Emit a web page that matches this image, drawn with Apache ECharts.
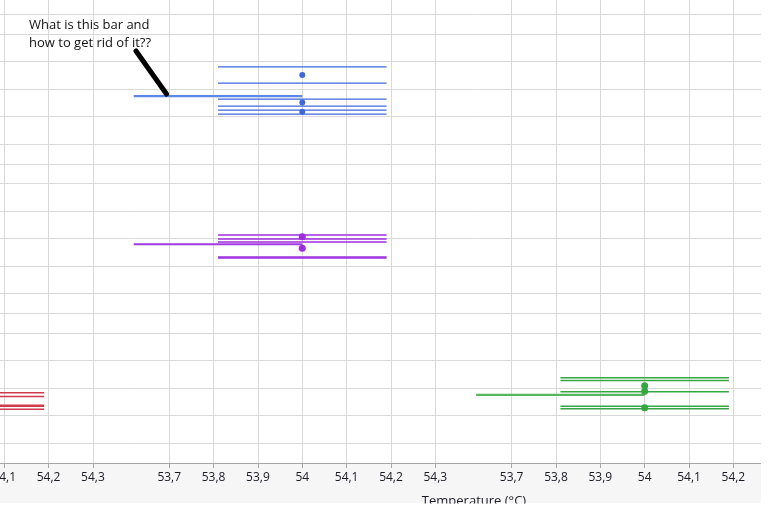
<!DOCTYPE html>
<html><head><meta charset="utf-8">
<script src="https://cdn.jsdelivr.net/npm/echarts@6/dist/echarts.min.js"></script>
<style>html,body{margin:0;padding:0;background:#fff}#c{width:774px;height:517px}</style>
</head><body><div id="c"></div>
<script>
// ---------- data ----------
const tickValues = [53.7, 53.8, 53.9, 54.0, 54.1, 54.2, 54.3];
const axisMin = 53.619, axisMax = 54.391;
const axisTitle = 'Temperature (°C)';
const noteText = 'What is this bar and\nhow to get rid of it??';

// blue group (middle column, top row)
const blueCapX = [53.81, 54.19];
const blueCapY = [1.20, 1.79, 2.37, 2.62, 2.77, 2.91];
const blueMeanX = [54.0, 54.0, 54.0];
const blueMeanY = [1.49, 2.49, 2.83];
const blueBarX = [53.62, 54.0];
const blueBarY = 2.26;

// purple group (middle column, middle row)
const purpleCapX = [53.81, 54.19];
const purpleCapY = [1.875, 2.02, 2.125, 2.67, 2.705];
const purpleMeanX = [54.0, 54.0];
const purpleMeanY = [1.94, 2.35];
const purpleBarX = [53.62, 54.0];
const purpleBarY = 2.21;

// green group (right column, bottom row)
const greenCapX = [53.81, 54.19];
const greenCapY = [1.63, 1.73, 2.14, 2.66, 2.755];
const greenMeanX = [54.0, 54.0, 54.0];
const greenMeanY = [1.92, 2.12, 2.72];
const greenBarX = [53.62, 54.0];
const greenBarY = 2.25;

// red group (left column, bottom row) - only the right ends are visible
const redCapX = [53.81, 54.19];
const redCapY = [2.175, 2.31, 2.63, 2.665, 2.77];

// ---------- layout ----------
const colLeft = [-209.1, 133.3, 475.7];
const colWidth = 342.4;
const rowTop = [14.5, 164.0, 313.5];
const rowHeight = 149.5;
const plotBottom = 463.0;

const gridColor = '#d9d9d9';
const axisColor = '#a6a6a6';

function fmt(v) {
  const r = Math.round(v * 10) / 10;
  if (Math.abs(v - r) > 1e-6) return '';
  return String(r).replace('.', ',');
}

const grids = [], xAxes = [], yAxes = [], series = [];
// frame grids (one per column) carrying the visible x axis
for (let c = 0; c < 3; c++) {
  grids.push({left: colLeft[c], top: 0, width: colWidth, height: plotBottom, containLabel: false, outerBoundsMode: 'none'});
  xAxes.push({
    gridIndex: c, type: 'value', min: axisMin, max: axisMax, splitNumber: 8,
    minInterval: 0.1, maxInterval: 0.1,
    axisLine: {show: true, lineStyle: {color: axisColor, width: 1}},
    axisTick: {show: true, length: 5, customValues: tickValues, lineStyle: {color: axisColor}},
    axisLabel: {show: true, customValues: tickValues, formatter: fmt, color: '#1a1a26',
      fontSize: 12, fontFamily: 'Open Sans', margin: 9, hideOverlap: false},
    splitLine: {show: true, lineStyle: {color: gridColor, width: 1}}
  });
  yAxes.push({gridIndex: c, type: 'value', min: 0, max: 1, show: false});
}
// row grids (3x3) carrying horizontal lines and data
function rowIndex(r, c) { return 3 + r * 3 + c; }
for (let r = 0; r < 3; r++) {
  for (let c = 0; c < 3; c++) {
    const gi = rowIndex(r, c);
    grids.push({left: colLeft[c], top: rowTop[r], width: colWidth, height: rowHeight, containLabel: false, outerBoundsMode: 'none'});
    xAxes.push({gridIndex: gi, type: 'value', min: axisMin, max: axisMax, show: false});
    yAxes.push({
      gridIndex: gi, type: 'value', inverse: true, min: -0.70, max: 4.72,
      splitNumber: 5, minInterval: 1, maxInterval: 1,
      axisLine: {show: false}, axisTick: {show: false}, axisLabel: {show: false},
      splitLine: {show: true, lineStyle: {color: gridColor, width: 1}}
    });
  }
}

function addGroup(gi, capX, capY, meanX, meanY, barX, barY, col, barCol, capW, dotSize) {
  capY.forEach(y => {
    series.push({type: 'line', xAxisIndex: gi, yAxisIndex: gi, symbol: 'none', silent: true,
      data: [[capX[0], y], [capX[1], y]], lineStyle: {color: col, width: capW}, z: 3});
  });
  if (barX) {
    series.push({type: 'line', xAxisIndex: gi, yAxisIndex: gi, symbol: 'none', silent: true,
      data: [[barX[0], barY], [barX[1], barY]], lineStyle: {color: barCol, width: 2.2}, z: 4});
  }
  if (meanX) {
    series.push({type: 'scatter', xAxisIndex: gi, yAxisIndex: gi, silent: true, symbolSize: dotSize,
      data: meanX.map((x, i) => [x, meanY[i]]), itemStyle: {color: col, opacity: 1}, z: 5});
  }
}
addGroup(rowIndex(0, 1), blueCapX, blueCapY, blueMeanX, blueMeanY, blueBarX, blueBarY, '#3e68dc', '#5b88e6', 1.3, 6);
addGroup(rowIndex(1, 1), purpleCapX, purpleCapY, purpleMeanX, purpleMeanY, purpleBarX, purpleBarY, '#9f2cde', '#a23ae2', 1.5, 7);
addGroup(rowIndex(2, 2), greenCapX, greenCapY, greenMeanX, greenMeanY, greenBarX, greenBarY, '#36a642', '#55b85d', 1.5, 7);
addGroup(rowIndex(2, 0), redCapX, redCapY, null, null, null, null, '#d03a4f', null, 1.5, 6);

const chart = echarts.init(document.getElementById('c'), null, {renderer: 'canvas'});
chart.setOption({
  animation: false,
  backgroundColor: '#ffffff',
  grid: grids, xAxis: xAxes, yAxis: yAxes, series: series,
  graphic: [
    {type: 'rect', z: -5, shape: {x: 0, y: plotBottom, width: 761, height: 40}, style: {fill: '#f6f6f6'}},
    {type: 'text', z: 50, x: 474, y: 501, style: {text: axisTitle, fill: '#1a1a26', font: '13px "Open Sans"', textAlign: 'center', textVerticalAlign: 'middle'}},
    {type: 'rect', z: 100, shape: {x: 0, y: 503.5, width: 774, height: 14}, style: {fill: '#ffffff'}},
    {type: 'rect', z: 100, shape: {x: 761, y: 0, width: 13, height: 517}, style: {fill: '#ffffff'}},
    {type: 'text', z: 60, x: 29, y: 16, style: {text: noteText, fill: '#111111', font: '13px "Open Sans"', lineHeight: 18, textVerticalAlign: 'top'}},
    {type: 'line', z: 60, shape: {x1: 136, y1: 51, x2: 166.5, y2: 94}, style: {stroke: '#000000', lineWidth: 5, lineCap: 'round'}}
  ]
});
</script></body></html>
